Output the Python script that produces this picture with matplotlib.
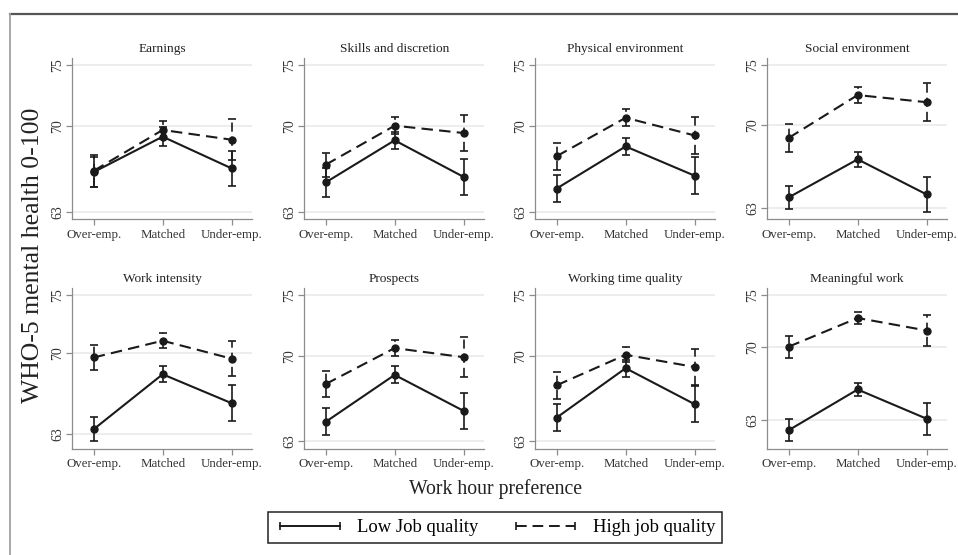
import matplotlib
matplotlib.use("Agg")
import matplotlib.pyplot as plt
from matplotlib.lines import Line2D
import numpy as np

plt.rcParams['font.family'] = ['Liberation Serif', 'DejaVu Serif']

# data
titles = ['Earnings', 'Skills and discretion', 'Physical environment', 'Social environment',
          'Work intensity', 'Prospects', 'Working time quality', 'Meaningful work']
cats = ['Over-emp.', 'Matched', 'Under-emp.']

low_vals = [[66.25, 69.15, 66.55], [65.4, 68.85, 65.85], [64.9, 68.35, 65.95], [63.9, 67.1, 64.15],
            [63.4, 68.15, 65.65], [64.6, 68.45, 65.5], [64.95, 69.0, 66.05], [62.05, 65.95, 63.15]]
low_ci = [[1.25, 0.8, 1.45], [1.2, 0.7, 1.5], [1.1, 0.7, 1.5], [1.0, 0.65, 1.45],
          [1.05, 0.7, 1.55], [1.1, 0.7, 1.45], [1.1, 0.7, 1.5], [1.07, 0.67, 1.55]]
high_vals = [[66.35, 69.7, 68.9], [66.85, 70.05, 69.45], [67.55, 70.7, 69.25], [68.9, 72.5, 71.9],
             [69.6, 71.05, 69.5], [67.7, 70.65, 69.9], [67.6, 70.1, 69.1], [70.05, 72.8, 71.6]]
high_ci = [[1.3, 0.7, 1.7], [1.0, 0.7, 1.5], [1.1, 0.7, 1.5], [1.2, 0.65, 1.6],
           [1.1, 0.65, 1.5], [1.05, 0.65, 1.65], [1.1, 0.6, 1.5], [1.07, 0.6, 1.5]]
yticks = [63, 70, 75]

W, H = 958, 555
fig = plt.figure(figsize=(W / 100, H / 100), dpi=100)

dash = (0, (5.5, 3))
lefts = [72.3, 304.3, 535.3, 767.3]
tops = [58, 287.7]
aw, ah = 180, 161
x = np.arange(len(cats))

for i in range(8):
    r, c = divmod(i, 4)
    ax = fig.add_axes([lefts[c] / W, 1 - (tops[r] + ah) / H, aw / W, ah / H])
    for vals, ci, ls in [(low_vals[i], low_ci[i], '-'), (high_vals[i], high_ci[i], dash)]:
        eb = ax.errorbar(x, vals, yerr=ci, fmt='none', ecolor='#1a1a1a', elinewidth=1.2,
                         capsize=3, capthick=1.2, zorder=3)
        eb[2][0].set_linestyle(ls)
        ax.plot(x, vals, color='#1a1a1a', lw=1.5, ls=ls, marker='o', ms=5, zorder=4)
    lo = min(63, min(np.array(low_vals[i]) - low_ci[i]), min(np.array(high_vals[i]) - high_ci[i]))
    pad = 0.05 * (75 - lo)
    ax.set_ylim(lo - pad, 75 + pad)
    ax.set_xlim(-0.31, 2.3)
    ax.set_yticks(yticks)
    ax.set_xticks(x)
    ax.set_xticklabels(cats, fontsize=9.3, color='#333333')
    ax.set_yticklabels([str(t) for t in yticks], fontsize=10, color='#333333',
                       rotation=90, va='center')
    ax.grid(axis='y', color='#ececec', lw=1.3, zorder=0)
    ax.set_axisbelow(True)
    for s in ['top', 'right']:
        ax.spines[s].set_visible(False)
    for s in ['left', 'bottom']:
        ax.spines[s].set_color('#8c8c8c')
        ax.spines[s].set_linewidth(0.9)
    ax.tick_params(color='#8c8c8c', length=4, width=0.9, pad=3)
    ax.tick_params(axis='y', pad=2)
    ax.set_title(titles[i], fontsize=9.6, color='#222222', pad=4)

fig.text(33 / W, 1 - 255 / H, 'WHO-5 mental health 0-100', rotation=90, fontsize=18.5,
         ha='center', va='center', color='#222222')
fig.text(496 / W, 1 - 489 / H, 'Work hour preference', fontsize=14.2,
         ha='center', va='center', color='#222222')

handles = [Line2D([], [], color='#1a1a1a', lw=1.4, ls='-', marker='|', ms=6, mew=1.2),
           Line2D([], [], color='#1a1a1a', lw=1.4, ls=dash, marker='|', ms=6, mew=1.2)]
leg = fig.legend(handles, ['Low Job quality', 'High job quality'], ncol=2, numpoints=2,
                 loc='center', bbox_to_anchor=(495 / W, 1 - 527.5 / H), fontsize=13.4,
                 handlelength=3.8, handletextpad=0.65, columnspacing=1.7,
                 fancybox=False, framealpha=1, edgecolor='#222222', borderpad=0.35)
leg.get_frame().set_linewidth(1.1)

# outer frame of the original graph
fig.add_artist(Line2D([10 / W, 1], [1 - 14 / H, 1 - 14 / H], color='#555555', lw=1.6,
                      transform=fig.transFigure))
fig.add_artist(Line2D([10 / W, 10 / W], [0, 1 - 14 / H], color='#a0a0a0', lw=1.3,
                      transform=fig.transFigure))

fig.savefig('out.png', dpi=100)
